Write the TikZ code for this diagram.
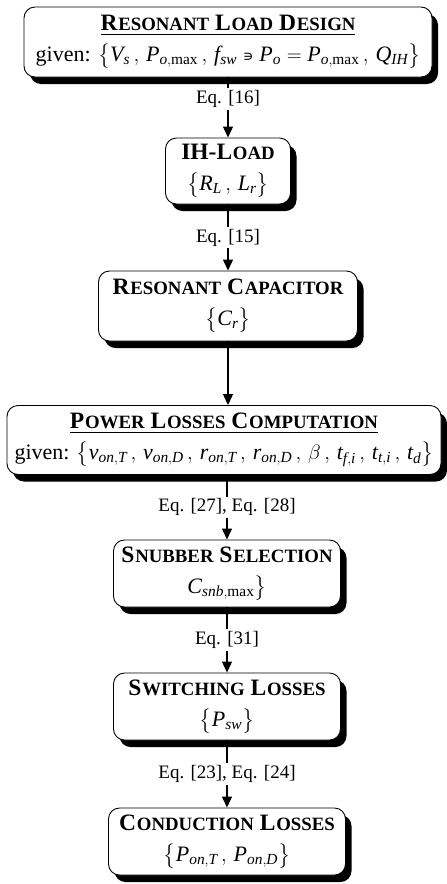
\documentclass[tikz,border=0pt]{standalone}
\usepackage{amsmath}
\usepackage{fontspec}
\setmainfont{Liberation Serif}
\newfontfamily\dvs{DejaVu Sans}
\usetikzlibrary{arrows.meta,shadows}
\newcommand{\mi}[1]{\mathit{#1}}
\newcommand{\tsc}[2]{#1\kern0.8pt{\fontsize{18.8}{19}\selectfont #2}}
\newcommand{\sinb}{\mathrel{\hbox{\dvs\fontsize{15}{15}\selectfont ∍}}}
\newcommand{\ttlfont}{\fontsize{23.5}{25}\selectfont\bfseries}
\tikzset{
  box/.style={draw=black, line width=0.9pt, rounded corners=11pt, fill=white,
    align=center, inner sep=0pt,
    general shadow={fill=black, shadow xshift=6pt, shadow yshift=-7pt},
    font=\fontsize{22}{25}\selectfont},
  conn/.style={line width=1.1pt, -{Triangle[length=11pt,width=10pt]}},
  eq/.style={fill=white, inner sep=2pt, font=\fontsize{19}{22}\selectfont}
}
\begin{document}
\begin{tikzpicture}[x=1pt,y=1pt]
\useasboundingbox (0,0) rectangle (447,-884);

\node[box, minimum width=408pt, minimum height=70pt] (b1) at (228,-42)
  {{\ttlfont\underline{\tsc{R}{ESONANT} \tsc{L}{OAD} \tsc{D}{ESIGN}}}\\[6pt]
   given: $\bigl\{\mi{V}_{\mi{s}}\,,\, \mi{P}_{\mi{o},\max}\,,\, \mi{f}_{\mi{sw}} \sinb \mi{P}_{\mi{o}} = \mi{P}_{\mi{o},\max}\,,\, \mi{Q}_{\mi{IH}}\bigr\}$};

\node[box, minimum width=125pt, minimum height=66pt] (b2) at (228,-171)
  {{\ttlfont IH-\tsc{L}{OAD}}\\[6pt]
   $\bigl\{\mi{R}_{\mi{L}}\,,\, \mi{L}_{\mi{r}}\bigr\}$};

\node[box, minimum width=259pt, minimum height=70pt] (b3) at (228,-306)
  {{\ttlfont\tsc{R}{ESONANT} \tsc{C}{APACITOR}}\\[6pt]
   $\bigl\{\mi{C}_{\mi{r}}\bigr\}$};

\node[box, minimum width=434pt, minimum height=69pt] (b4) at (224,-440)
  {{\ttlfont\underline{\tsc{P}{OWER} \tsc{L}{OSSES} \tsc{C}{OMPUTATION}}}\\[6pt]
   given: $\bigl\{\mi{v}_{\mi{on},\mi{T}}\,,\, \mi{v}_{\mi{on},\mi{D}}\,,\, \mi{r}_{\mi{on},\mi{T}}\,,\, \mi{r}_{\mi{on},\mi{D}}\,,\, \beta\,,\, \mi{t}_{\mi{f},\mi{i}}\,,\, \mi{t}_{\mi{t},\mi{i}}\,,\, \mi{t}_{\mi{d}}\bigr\}$};

\node[box, minimum width=227pt, minimum height=67pt] (b5) at (227,-573.5)
  {{\ttlfont\tsc{S}{NUBBER} \tsc{S}{ELECTION}}\\[6pt]
   $\bigl.\mi{C}_{\mi{snb},\max}\bigr\}$};

\node[box, minimum width=227pt, minimum height=67pt] (b6) at (227,-706.5)
  {{\ttlfont\tsc{S}{WITCHING} \tsc{L}{OSSES}}\\[6pt]
   $\bigl\{\mi{P}_{\mi{sw}}\bigr\}$};

\node[box, minimum width=237pt, minimum height=67pt] (b7) at (227,-841.5)
  {{\ttlfont\tsc{C}{ONDUCTION} \tsc{L}{OSSES}}\\[6pt]
   $\bigl\{\mi{P}_{\mi{on},\mi{T}}\,,\, \mi{P}_{\mi{on},\mi{D}}\bigr\}$};

\draw[conn] (b1.south) -- node[eq, pos=0.36] (e1) {Eq. [16]} (b2.north);
\draw[conn] (b2.south) -- node[eq] (e2) {Eq. [15]} (b3.north);
\draw[conn] (b3.south) -- (b3.south |- b4.north);
\draw[conn] (b4.south -| b5.north) -- node[eq] (e3) {Eq. [27], Eq. [28]} (b5.north);
\draw[conn] (b5.south) -- node[eq] (e4) {Eq. [31]} (b6.north);
\draw[conn] (b6.south) -- node[eq] (e5) {Eq. [23], Eq. [24]} (b7.north);
\end{tikzpicture}
\end{document}
